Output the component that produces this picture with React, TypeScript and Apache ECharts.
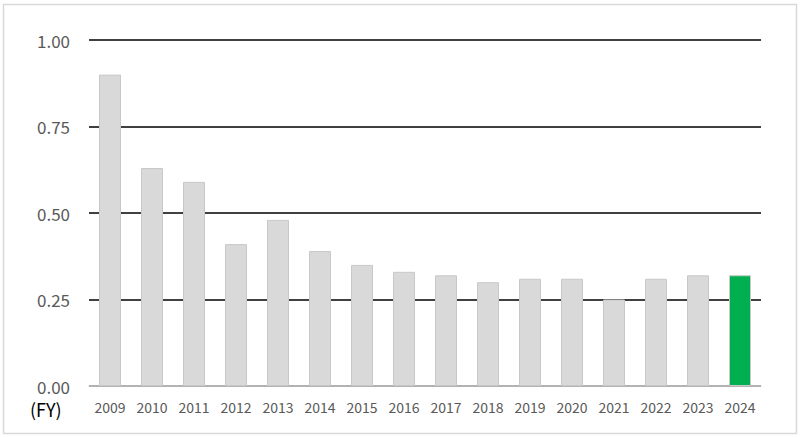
import React, { useEffect, useRef } from "react";
import * as echarts from "echarts";

const years = ["2009","2010","2011","2012","2013","2014","2015","2016","2017","2018","2019","2020","2021","2022","2023","2024"];
const values = [0.90,0.63,0.59,0.41,0.48,0.39,0.35,0.33,0.32,0.30,0.31,0.31,0.25,0.31,0.32,0.32];
const highlightYear = "2024";

export default function App() {
  const ref = useRef<HTMLDivElement>(null);
  useEffect(() => {
    const chart = echarts.init(ref.current!, null, { renderer: "svg" });
    const font = "'Noto Sans CJK JP', 'Noto Sans', sans-serif";
    chart.setOption({
      animation: false,
      backgroundColor: "#ffffff",
      grid: { left: 89, right: 39, top: 40, bottom: 51 },
      xAxis: {
        type: "category",
        data: years,
        axisLine: { lineStyle: { color: "#d9d9d9", width: 1.5 } },
        axisTick: { show: false },
        axisLabel: { color: "#595959", fontSize: 14, fontFamily: font, margin: 14 },
      },
      yAxis: {
        type: "value",
        min: 0,
        max: 1,
        interval: 0.25,
        axisLine: { show: false },
        axisTick: { show: false },
        splitLine: { lineStyle: { color: "#000000", width: 1.5 } },
        axisLabel: {
          color: "#595959",
          fontSize: 17,
          lineHeight: 16,
          fontFamily: font,
          margin: 19,
          formatter: (v: number) => v.toFixed(2),
        },
      },
      series: [
        {
          type: "bar",
          barWidth: 22,
          data: values.map((v, i) => ({
            value: v,
            itemStyle: {
              color: years[i] === highlightYear ? "#00b050" : "#d9d9d9",
              borderColor: "#c8c8c8",
              borderWidth: 1,
            },
          })),
          z: 3,
        },
      ],
      graphic: [
        {
          type: "rect",
          shape: { x: 3.5, y: 4.5, width: 793, height: 429 },
          style: { fill: "none", stroke: "#d9d9d9", lineWidth: 1.5 },
          silent: true,
        },
        {
          type: "text",
          x: 30,
          y: 401,
          style: { text: "(FY)", fill: "#000000", font: `18px ${font}`, lineHeight: 16 },
        },
      ],
    });
    return () => chart.dispose();
  }, []);
  return <div ref={ref} style={{ position: "fixed", left: 0, top: 0, width: 800, height: 437 }} />;
}
